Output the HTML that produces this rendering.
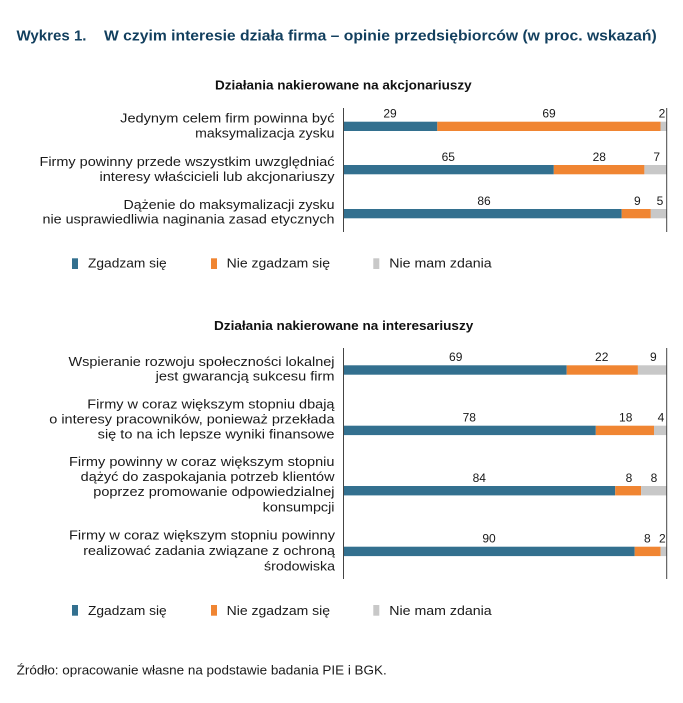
<!DOCTYPE html>
<html><head><meta charset="utf-8"><style>
html,body{margin:0;padding:0;background:#fff;}
svg{display:block;}
text{font-family:"Liberation Sans","DejaVu Sans",sans-serif;}
</style></head><body>
<svg width="683" height="703" viewBox="0 0 683 703" xmlns="http://www.w3.org/2000/svg">
<rect width="683" height="703" fill="#fff"/>
<!-- Title -->
<g fill="#123f5e" font-weight="bold" font-size="15">
<text x="16.5" y="40.7" textLength="70" lengthAdjust="spacingAndGlyphs">Wykres 1.</text>
<text x="104" y="40.7" textLength="552.7" lengthAdjust="spacingAndGlyphs">W czyim interesie działa firma – opinie przedsiębiorców (w proc. wskazań)</text>
</g>
<!-- Subtitles -->
<g fill="#111" font-weight="bold" font-size="12.5">
<text x="215" y="89.3" textLength="256.7" lengthAdjust="spacingAndGlyphs">Działania nakierowane na akcjonariuszy</text>
<text x="214" y="330" textLength="259.3" lengthAdjust="spacingAndGlyphs">Działania nakierowane na interesariuszy</text>
</g>
<!-- Category labels -->
<g fill="#1a1a1a" font-size="12.5">
<text x="120.2" y="122.5" textLength="214.3" lengthAdjust="spacingAndGlyphs">Jedynym celem firm powinna być</text>
<text x="195.2" y="137.5" textLength="139.3" lengthAdjust="spacingAndGlyphs">maksymalizacja zysku</text>
<text x="39.5" y="166.2" textLength="295" lengthAdjust="spacingAndGlyphs">Firmy powinny przede wszystkim uwzględniać</text>
<text x="99.5" y="181.2" textLength="235" lengthAdjust="spacingAndGlyphs">interesy właścicieli lub akcjonariuszy</text>
<text x="123.5" y="208.8" textLength="211" lengthAdjust="spacingAndGlyphs">Dążenie do maksymalizacji zysku</text>
<text x="42.5" y="223.5" textLength="292" lengthAdjust="spacingAndGlyphs">nie usprawiedliwia naginania zasad etycznych</text>

<text x="68.5" y="366.2" textLength="266" lengthAdjust="spacingAndGlyphs">Wspieranie rozwoju społeczności lokalnej</text>
<text x="155.7" y="380.5" textLength="178.8" lengthAdjust="spacingAndGlyphs">jest gwarancją sukcesu firm</text>
<text x="87.3" y="408.5" textLength="247.2" lengthAdjust="spacingAndGlyphs">Firmy w coraz większym stopniu dbają</text>
<text x="49.3" y="423.5" textLength="285.2" lengthAdjust="spacingAndGlyphs">o interesy pracowników, ponieważ przekłada</text>
<text x="97.7" y="438.5" textLength="236.8" lengthAdjust="spacingAndGlyphs">się to na ich lepsze wyniki finansowe</text>
<text x="69" y="466.2" textLength="265.5" lengthAdjust="spacingAndGlyphs">Firmy powinny w coraz większym stopniu</text>
<text x="80.7" y="481.2" textLength="253.8" lengthAdjust="spacingAndGlyphs">dążyć do zaspokajania potrzeb klientów</text>
<text x="93.3" y="496.2" textLength="241.2" lengthAdjust="spacingAndGlyphs">poprzez promowanie odpowiedzialnej</text>
<text x="262.7" y="511.5" textLength="71.8" lengthAdjust="spacingAndGlyphs">konsumpcji</text>
<text x="69" y="539.5" textLength="266" lengthAdjust="spacingAndGlyphs">Firmy w coraz większym stopniu powinny</text>
<text x="83.3" y="555.2" textLength="251.7" lengthAdjust="spacingAndGlyphs">realizować zadania związane z ochroną</text>
<text x="264" y="570.5" textLength="71" lengthAdjust="spacingAndGlyphs">środowiska</text>
</g>

<!-- Chart 1 bars: x0=343.5, 3.235 px per % -->
<g>
<rect x="343.5" y="121.7" width="93.8" height="9.3" fill="#33708f"/>
<rect x="437.3" y="121.7" width="223.2" height="9.3" fill="#f08532"/>
<rect x="660.5" y="121.7" width="6.5" height="9.3" fill="#c8c8c8"/>

<rect x="343.5" y="165" width="210.3" height="9.3" fill="#33708f"/>
<rect x="553.8" y="165" width="90.6" height="9.3" fill="#f08532"/>
<rect x="644.4" y="165" width="22.6" height="9.3" fill="#c8c8c8"/>

<rect x="343.5" y="209" width="278.2" height="9.3" fill="#33708f"/>
<rect x="621.7" y="209" width="29.1" height="9.3" fill="#f08532"/>
<rect x="650.8" y="209" width="16.2" height="9.3" fill="#c8c8c8"/>
</g>
<line x1="343.5" y1="108" x2="343.5" y2="232" stroke="#444" stroke-width="1"/>
<line x1="666.7" y1="108" x2="666.7" y2="232" stroke="#444" stroke-width="1"/>

<!-- Chart 2 bars -->
<g>
<rect x="343.5" y="365.3" width="223.2" height="9.4" fill="#33708f"/>
<rect x="566.7" y="365.3" width="71.2" height="9.4" fill="#f08532"/>
<rect x="637.9" y="365.3" width="29.1" height="9.4" fill="#c8c8c8"/>

<rect x="343.5" y="425.7" width="252.3" height="9.4" fill="#33708f"/>
<rect x="595.8" y="425.7" width="58.2" height="9.4" fill="#f08532"/>
<rect x="654" y="425.7" width="13" height="9.4" fill="#c8c8c8"/>

<rect x="343.5" y="486" width="271.7" height="9.4" fill="#33708f"/>
<rect x="615.2" y="486" width="25.9" height="9.4" fill="#f08532"/>
<rect x="641.1" y="486" width="25.9" height="9.4" fill="#c8c8c8"/>

<rect x="343.5" y="546.7" width="291.2" height="9.4" fill="#33708f"/>
<rect x="634.7" y="546.7" width="25.9" height="9.4" fill="#f08532"/>
<rect x="660.6" y="546.7" width="6.4" height="9.4" fill="#c8c8c8"/>
</g>
<line x1="343.5" y1="348" x2="343.5" y2="579" stroke="#444" stroke-width="1"/>
<line x1="666.7" y1="348" x2="666.7" y2="579" stroke="#444" stroke-width="1"/>

<!-- Value labels -->
<g fill="#1a1a1a" font-size="12" text-anchor="middle">
<text x="390" y="117.7">29</text>
<text x="549" y="117.7">69</text>
<text x="662" y="117.7">2</text>
<text x="448.3" y="161">65</text>
<text x="599.3" y="161">28</text>
<text x="656.7" y="161">7</text>
<text x="484" y="205">86</text>
<text x="637.3" y="205">9</text>
<text x="660" y="205">5</text>

<text x="455.7" y="361">69</text>
<text x="601.7" y="361">22</text>
<text x="653.3" y="361">9</text>
<text x="469.3" y="421.7">78</text>
<text x="625.7" y="421.7">18</text>
<text x="661" y="421.7">4</text>
<text x="479.3" y="482">84</text>
<text x="629" y="482">8</text>
<text x="654" y="482">8</text>
<text x="489" y="542.7">90</text>
<text x="647.3" y="542.7">8</text>
<text x="662.3" y="542.7">2</text>
</g>

<!-- Legend 1 -->
<rect x="72" y="258.3" width="6" height="10.7" fill="#33708f"/>
<rect x="211" y="258.3" width="6" height="10.7" fill="#f08532"/>
<rect x="373.3" y="258.3" width="6" height="10.7" fill="#c8c8c8"/>
<g fill="#1a1a1a" font-size="12.5">
<text x="88" y="267.7" textLength="78.7" lengthAdjust="spacingAndGlyphs">Zgadzam się</text>
<text x="226.7" y="267.7" textLength="103.3" lengthAdjust="spacingAndGlyphs">Nie zgadzam się</text>
<text x="389.3" y="267.7" textLength="102.4" lengthAdjust="spacingAndGlyphs">Nie mam zdania</text>
</g>
<!-- Legend 2 -->
<rect x="72" y="605" width="6" height="10.7" fill="#33708f"/>
<rect x="211" y="605" width="6" height="10.7" fill="#f08532"/>
<rect x="373.3" y="605" width="6" height="10.7" fill="#c8c8c8"/>
<g fill="#1a1a1a" font-size="12.5">
<text x="88" y="615" textLength="78.7" lengthAdjust="spacingAndGlyphs">Zgadzam się</text>
<text x="226.7" y="615" textLength="103.3" lengthAdjust="spacingAndGlyphs">Nie zgadzam się</text>
<text x="389.3" y="615" textLength="102.4" lengthAdjust="spacingAndGlyphs">Nie mam zdania</text>
</g>

<!-- Source -->
<text x="16.7" y="674.3" fill="#1a1a1a" font-size="13" textLength="370" lengthAdjust="spacingAndGlyphs">Źródło: opracowanie własne na podstawie badania PIE i BGK.</text>
</svg>
</body></html>
